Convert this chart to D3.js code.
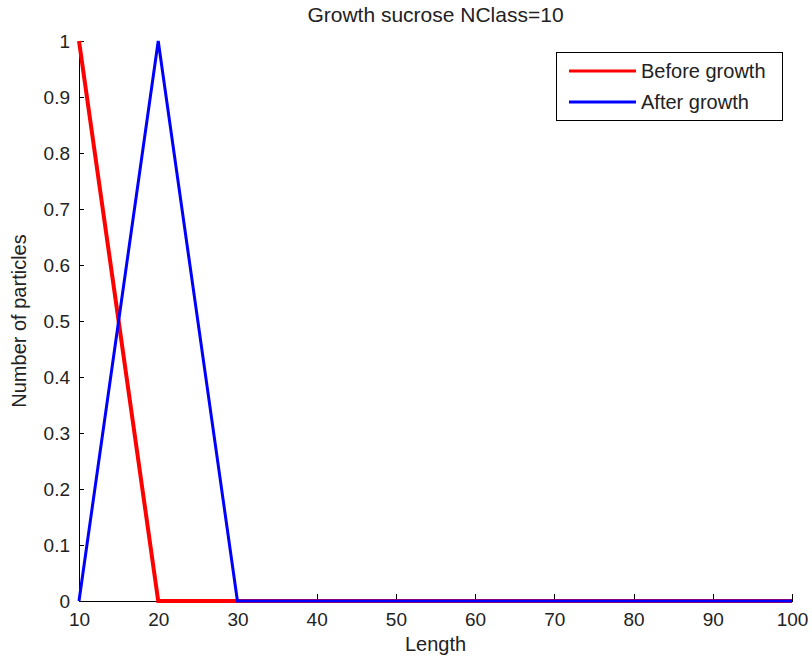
<!DOCTYPE html>
<meta charset="utf-8">
<head>
    <title>Growth sucrose</title>
    <script src="https://d3js.org/d3.v7.min.js"></script>
    <style>
        html, body { margin: 0; background: #fff; }
        text { font-family: "Liberation Sans", Arial, sans-serif; fill: #222; }
        .axis path, .axis line { stroke: #000; shape-rendering: crispEdges; }
        .axis text { font-size: 19px; }
        .line { fill: none; }
    </style>
</head>
<body>
<div id="chart"></div>
<script>
// データ
var lengths = [10, 20, 30, 40, 50, 60, 70, 80, 90, 100];
var before = [1, 0, 0, 0, 0, 0, 0, 0, 0, 0];
var after = [0, 1, 0, 0, 0, 0, 0, 0, 0, 0];
var xTicks = [10, 20, 30, 40, 50, 60, 70, 80, 90, 100];
var yTicks = [0, 0.1, 0.2, 0.3, 0.4, 0.5, 0.6, 0.7, 0.8, 0.9, 1];
var seriesNames = ["Before growth", "After growth"];
var seriesColors = ["#ff0000", "#0000ff"];

var W = 812, H = 661;
var margin = {top: 41, right: 20, bottom: 60, left: 79};

var svg = d3.select("#chart").append("svg")
    .attr("width", W).attr("height", H);

var xScale = d3.scaleLinear().domain([10, 100]).range([margin.left, W - margin.right]);
var yScale = d3.scaleLinear().domain([0, 1]).range([H - margin.bottom, margin.top]);

// 軸
svg.append("g")
    .attr("class", "axis")
    .attr("transform", "translate(0," + yScale(0) + ")")
    .call(d3.axisBottom(xScale).tickValues(xTicks).tickSizeInner(-7).tickSizeOuter(0))
    .call(g => g.selectAll("text").attr("y", 25).attr("dy", 0));

svg.append("g")
    .attr("class", "axis")
    .attr("transform", "translate(" + xScale(10) + ",0)")
    .call(d3.axisLeft(yScale).tickValues(yTicks).tickFormat(d3.format("~g")).tickSizeInner(-5).tickSizeOuter(0).tickPadding(9));

// タイトル・ラベル
svg.append("text")
    .attr("x", (xScale(10) + xScale(100)) / 2).attr("y", 22)
    .attr("text-anchor", "middle").style("font-size", "21px")
    .text("Growth sucrose NClass=10");

svg.append("text")
    .attr("x", (xScale(10) + xScale(100)) / 2).attr("y", 651)
    .attr("text-anchor", "middle").style("font-size", "20px")
    .text("Length");

svg.append("text")
    .attr("transform", "translate(26," + (yScale(0.5)) + ") rotate(-90)")
    .attr("text-anchor", "middle").style("font-size", "20px")
    .text("Number of particles");

// 折れ線
var line = d3.line()
    .x(d => xScale(d.x))
    .y(d => yScale(d.y));

var series = [
    {name: seriesNames[0], color: seriesColors[0], width: 4, values: lengths.map((x, i) => ({x: x, y: before[i]}))},
    {name: seriesNames[1], color: seriesColors[1], width: 3, values: lengths.map((x, i) => ({x: x, y: after[i]}))}
];

svg.selectAll(".line")
    .data(series)
    .enter().append("path")
    .attr("class", "line")
    .attr("stroke", d => d.color)
    .attr("stroke-width", d => d.width)
    .attr("d", d => line(d.values));

// 凡例
var legend = svg.append("g").attr("transform", "translate(556,52)");
legend.append("rect")
    .attr("width", 226).attr("height", 68)
    .attr("fill", "#fff").attr("stroke", "#000").attr("stroke-width", 1)
    .attr("shape-rendering", "crispEdges");

series.forEach(function(s, i) {
    var yy = 19 + i * 31;
    legend.append("line")
        .attr("x1", 13).attr("x2", 80).attr("y1", yy).attr("y2", yy)
        .attr("stroke", s.color).attr("stroke-width", 3);
    legend.append("text")
        .attr("x", 85).attr("y", yy).attr("dy", "0.35em")
        .style("font-size", "20px")
        .text(s.name);
});
</script>
</body>
